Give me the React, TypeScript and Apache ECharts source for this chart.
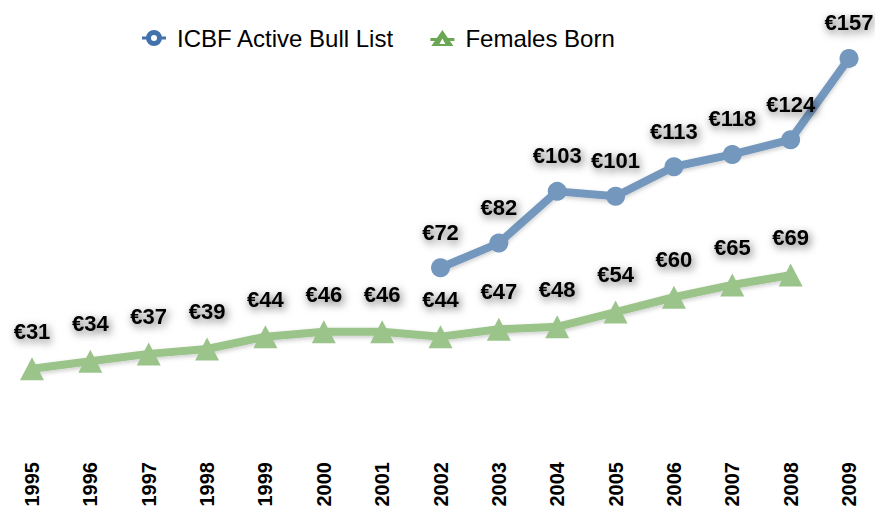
import React, { useEffect, useRef } from "react";
import * as echarts from "echarts";

const years = ["1995","1996","1997","1998","1999","2000","2001","2002","2003","2004","2005","2006","2007","2008","2009"];
const bullList = [null, null, null, null, null, null, null, 72, 82, 103, 101, 113, 118, 124, 157];
const femalesBorn = [31, 34, 37, 39, 44, 46, 46, 44, 47, 48, 54, 60, 65, 69, null];

const ringIcon =
  "path://M0 6.5H5V9.5H0Z M19 6.5H24V9.5H19Z M20 8A8 8 0 1 1 4 8A8 8 0 1 1 20 8Z M15 8A3 3 0 1 0 9 8A3 3 0 1 0 15 8Z";
const triIcon =
  "path://M0 8H7V11H0Z M17 8H24V11H17Z M12 0L23 16L1 16Z M12 8.5L9 14L15 14Z";

export default function App() {
  const ref = useRef<HTMLDivElement>(null);
  useEffect(() => {
    const chart = echarts.init(ref.current!, null, { renderer: "svg" });
    const label = {
      show: true,
      position: "top",
      distance: 15,
      formatter: (p: any) => "€" + p.value,
      color: "#000",
      fontSize: 22,
      fontWeight: "bold",
      fontFamily: "Liberation Sans, Arial, sans-serif",
      textShadowColor: "rgba(0,0,0,0.6)",
      textShadowBlur: 8,
      textShadowOffsetX: 2,
      textShadowOffsetY: 3,
    };
    chart.setOption({
      animation: false,
      legend: {
        top: 21,
        left: 137,
        itemGap: 36,
        itemWidth: 24,
        itemHeight: 16,
        textStyle: {
          fontSize: 24,
          color: "#000",
          fontFamily: "Liberation Sans, Arial, sans-serif",
          padding: [0, 0, 0, 6],
        },
        data: [
          { name: "ICBF Active Bull List", icon: ringIcon, itemStyle: { color: "#4272ac" } },
          { name: "Females Born", icon: triIcon, itemStyle: { color: "#6aa653" } },
        ],
      },
      grid: { left: 32, right: 26, top: 51, bottom: 67 },
      xAxis: {
        type: "category",
        data: years,
        boundaryGap: false,
        axisLine: { show: false },
        axisTick: { show: false },
        axisLabel: {
          rotate: 90,
          margin: 17,
          fontSize: 20,
          fontWeight: "bold",
          color: "#000",
          fontFamily: "Liberation Sans, Arial, sans-serif",
          interval: 0,
        },
      },
      yAxis: { type: "value", min: 0, max: 160, show: false, splitLine: { show: false } },
      series: [
        {
          name: "ICBF Active Bull List",
          type: "line",
          data: bullList,
          symbol: "circle",
          symbolSize: 19,
          itemStyle: { color: "#7397bd" },
          lineStyle: { width: 8, color: "#7397bd", shadowColor: "rgba(0,0,0,0.2)", shadowBlur: 4, shadowOffsetY: 2 },
          label,
        },
        {
          name: "Females Born",
          type: "line",
          data: femalesBorn,
          symbol: "triangle",
          symbolSize: [24, 23],
          itemStyle: { color: "#9bc48a" },
          lineStyle: { width: 8, color: "#9bc48a", shadowColor: "rgba(0,0,0,0.2)", shadowBlur: 4, shadowOffsetY: 2 },
          label,
        },
      ],
    });
    return () => chart.dispose();
  }, []);
  return <div ref={ref} style={{ width: 875, height: 512, position: "absolute", left: 0, top: 0 }} />;
}
